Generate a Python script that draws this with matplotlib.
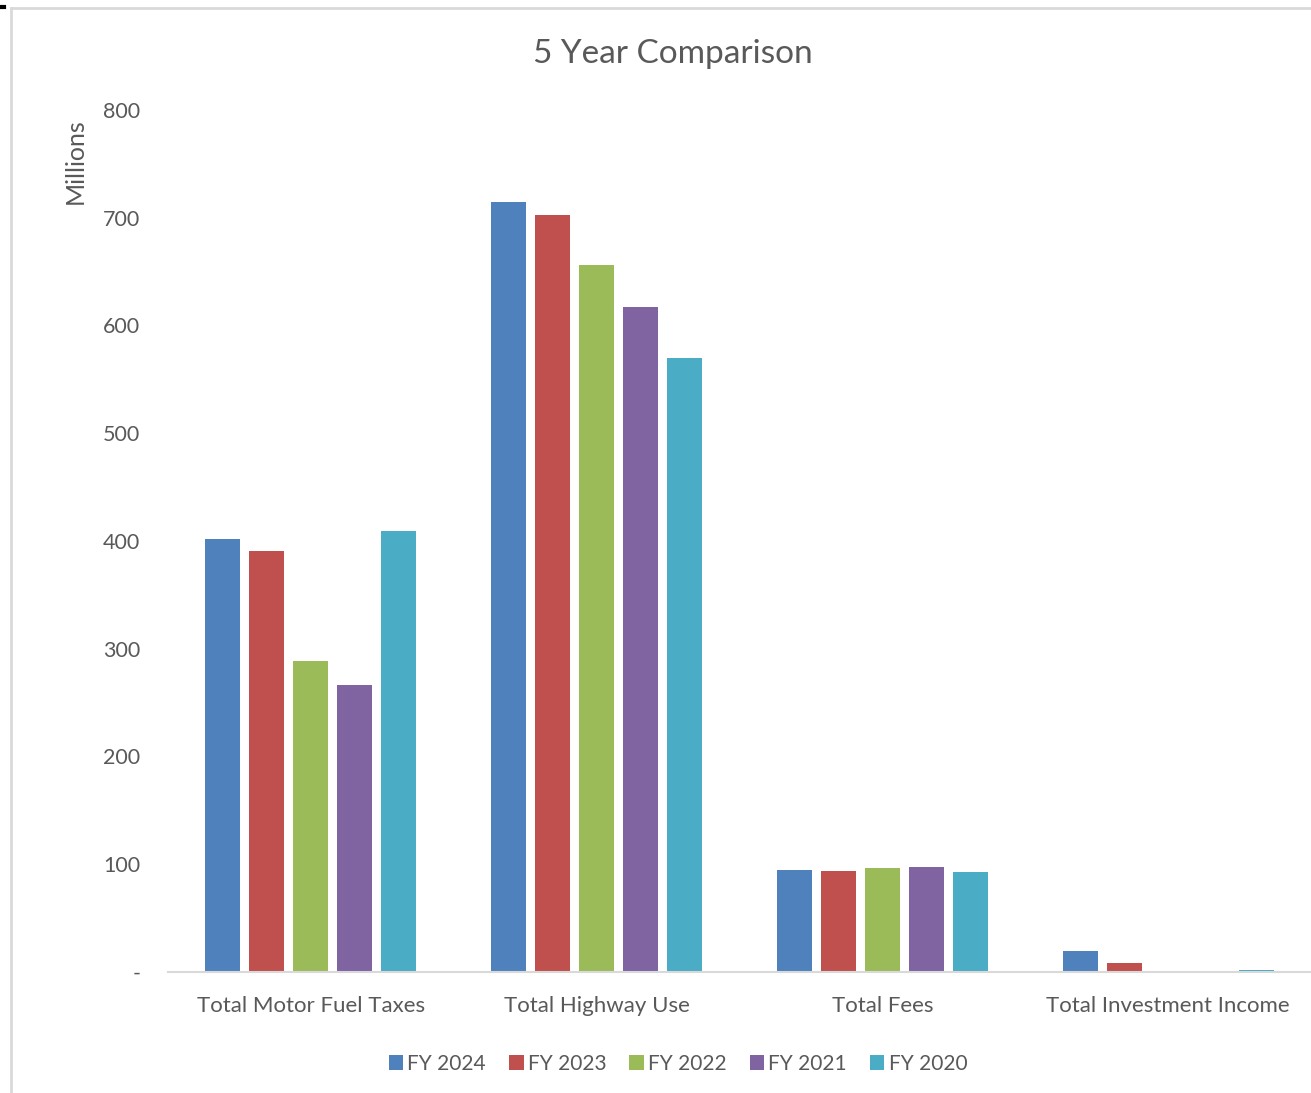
import matplotlib.pyplot as plt
from matplotlib.lines import Line2D
import numpy as np

categories = ["Total Motor Fuel Taxes", "Total Highway Use", "Total Fees", "Total Investment Income"]
years = ["FY 2024", "FY 2023", "FY 2022", "FY 2021", "FY 2020"]
values = {
    "FY 2024": [402, 715, 94.7, 19.5],
    "FY 2023": [391, 703, 93.7, 8.4],
    "FY 2022": [289, 656, 96.5, 0.3],
    "FY 2021": [266, 617, 97.4, 1.0],
    "FY 2020": [409, 570, 92.8, 2.3],
}
colors = ["#4F81BD", "#C0504D", "#9BBB59", "#8064A2", "#4BACC6"]
yticks = [0, 100, 200, 300, 400, 500, 600, 700, 800]
ytick_labels = ["-", "100", "200", "300", "400", "500", "600", "700", "800"]

TEXT = "#595959"
plt.rcParams["font.family"] = ["Lato", "DejaVu Sans"]

fig = plt.figure(figsize=(13.11, 10.93), dpi=100)
ax = fig.add_axes([168 / 1311, 1 - 972 / 1093, 1 - 168 / 1311, (972 - 110) / 1093])

x = np.arange(len(categories))
step = 0.154
width = 0.122
for i, (yr, c) in enumerate(zip(years, colors)):
    ax.bar(x + (i - 2) * step, values[yr], width, color=c, label=yr)

ax.set_xlim(-0.5, len(categories) - 0.5)
ax.set_ylim(0, 800)
ax.set_yticks(yticks)
ax.set_yticklabels(ytick_labels)
ax.set_xticks(x)
ax.set_xticklabels(categories)
ax.tick_params(axis="both", length=0, colors=TEXT)
ax.tick_params(axis="y", pad=20, labelsize=15.5)
ax.tick_params(axis="x", pad=17, labelsize=16)
for s in ["top", "right", "left"]:
    ax.spines[s].set_visible(False)
ax.spines["bottom"].set_color("#D9D9D9")
ax.spines["bottom"].set_linewidth(1.5)

fig.text(75 / 1311, 1 - 161 / 1093, "Millions", rotation=90, ha="center", va="center",
         fontsize=18, color=TEXT)
fig.text(673 / 1311, 1 - 54 / 1093, "5 Year Comparison", ha="center", va="center",
         fontsize=24, color=TEXT)

ax.legend(loc="center", bbox_to_anchor=(678 / 1311, 1 - 1064 / 1093), bbox_transform=fig.transFigure,
          ncol=5, frameon=False, fontsize=15, labelcolor=TEXT, handlelength=0.7, handleheight=0.7,
          handletextpad=0.2, columnspacing=1.1)

# frame lines of the surrounding document
fig.add_artist(Line2D([11 / 1311, 1], [1 - 8 / 1093] * 2, color="#D9D9D9", lw=2))
fig.add_artist(Line2D([11 / 1311] * 2, [0, 1 - 8 / 1093], color="#D9D9D9", lw=2))
fig.add_artist(Line2D([0, 4 / 1311], [1 - 7 / 1093] * 2, color="black", lw=3))

fig.savefig("out.png", dpi=100)
